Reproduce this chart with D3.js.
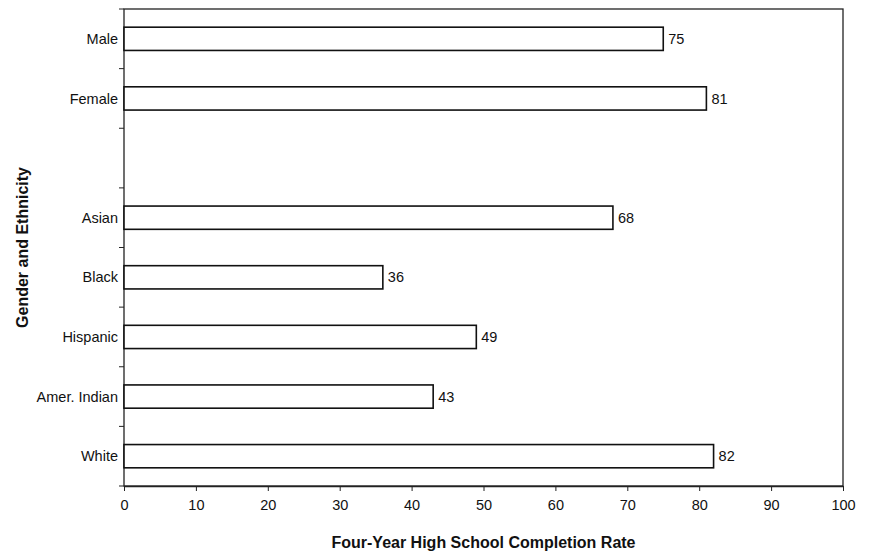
<!DOCTYPE html>
<html><head><meta charset="utf-8">
<script src="https://cdn.jsdelivr.net/npm/d3@7"></script>
<style>body{margin:0;background:#fff;} text{font-family:Arial,"Liberation Sans",sans-serif;fill:#111;}</style>
</head><body><svg id="c" width="870" height="552"></svg>
<script>
const categories = ["Male","Female","","Asian","Black","Hispanic","Amer. Indian","White"];
const values = [75,81,null,68,36,49,43,82];
const xTicks = [0,10,20,30,40,50,60,70,80,90,100];
const xTitle = "Four-Year High School Completion Rate";
const yTitle = "Gender and Ethnicity";

const svg = d3.select("#c");
const m = {l:124, r:843, t:9, b:486};
const x = d3.scaleLinear().domain([0,100]).range([m.l, m.r]);
const slots = categories.map((c,i)=>i);
const y = d3.scaleBand().domain(slots).range([m.t, m.b]).paddingInner(0.61).paddingOuter(0.305);

// frame
svg.append("rect").attr("x",m.l).attr("y",m.t).attr("width",m.r-m.l).attr("height",m.b-m.t)
  .attr("fill","none").attr("stroke","#222").attr("stroke-width",1.3);

// x axis
const xa = svg.append("g").attr("transform",`translate(0,${m.b})`)
  .call(d3.axisBottom(x).tickValues(xTicks).tickSize(5).tickPadding(9).tickSizeOuter(0));
xa.select(".domain").attr("stroke","#222").attr("stroke-width",1.3);
xa.selectAll("line").attr("stroke","#222");
xa.selectAll("text").attr("font-size",14.5).attr("fill","#111").attr("font-family","Arial,'Liberation Sans',sans-serif");

// y ticks at slot boundaries
const step = y.step();
const bounds = d3.range(categories.length+1).map(i=>m.t + i*step);
svg.append("g").selectAll("line").data(bounds).join("line")
  .attr("x1",m.l-5).attr("x2",m.l).attr("y1",d=>d).attr("y2",d=>d).attr("stroke","#222");

// y labels
svg.append("g").selectAll("text").data(slots.filter(i=>categories[i]!=="")).join("text")
  .attr("x",m.l-6).attr("y",i=>y(i)+y.bandwidth()/2).attr("dy","0.35em")
  .attr("text-anchor","end").attr("font-size",14.5).text(i=>categories[i]);

// bars
const idx = slots.filter(i=>values[i]!=null);
svg.append("g").selectAll("rect").data(idx).join("rect")
  .attr("x",x(0)).attr("y",i=>y(i)).attr("width",i=>x(values[i])-x(0)).attr("height",y.bandwidth())
  .attr("fill","#fff").attr("stroke","#111").attr("stroke-width",1.6);

svg.append("g").selectAll("text").data(idx).join("text")
  .attr("x",i=>x(values[i])+5).attr("y",i=>y(i)+y.bandwidth()/2).attr("dy","0.35em")
  .attr("font-size",14.5).text(i=>values[i]);

// titles
svg.append("text").attr("x",(m.l+m.r)/2).attr("y",548).attr("text-anchor","middle")
  .attr("font-size",16).attr("font-weight","bold").text(xTitle);
svg.append("text").attr("transform",`translate(28,${(m.t+m.b)/2}) rotate(-90)`).attr("text-anchor","middle")
  .attr("font-size",16).attr("font-weight","bold").text(yTitle);
</script></body></html>
